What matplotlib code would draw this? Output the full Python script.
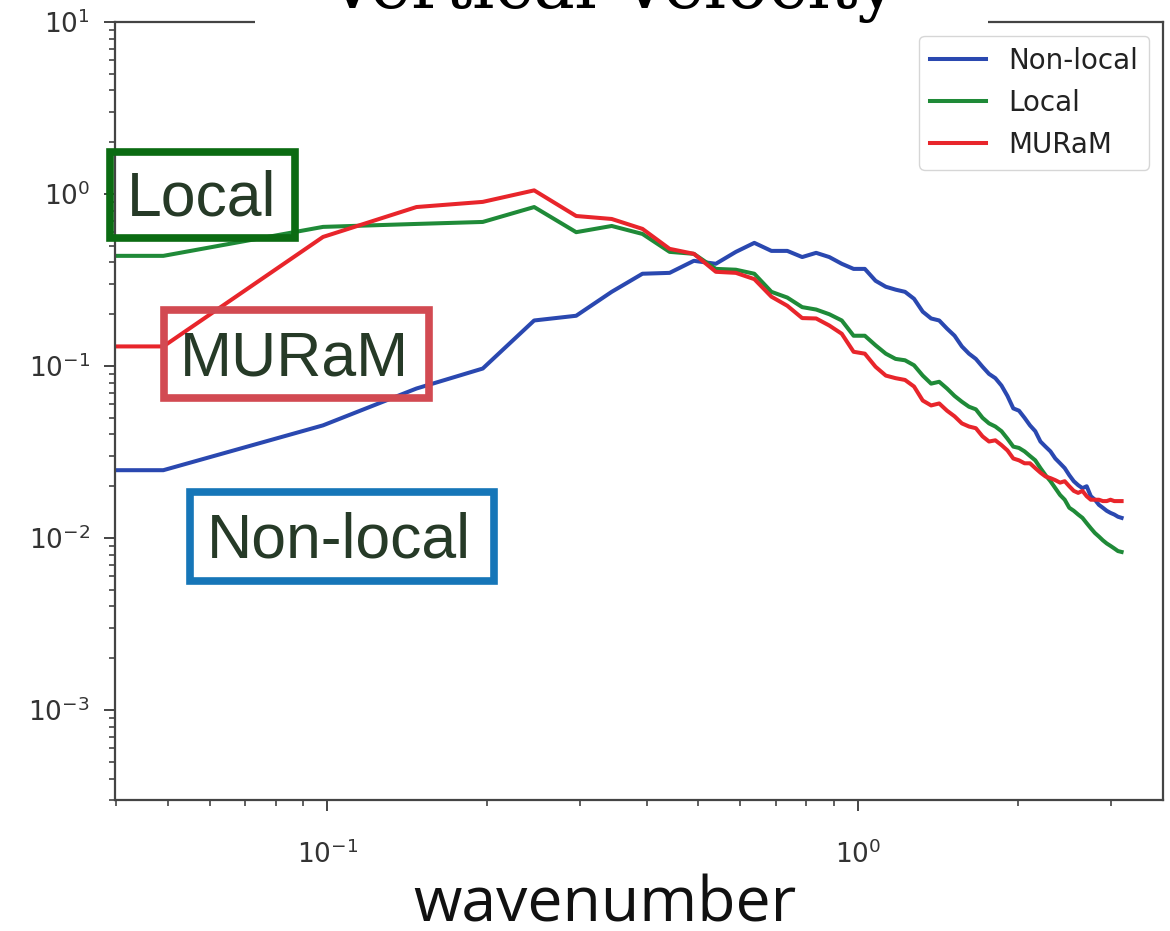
import numpy as np
import matplotlib
matplotlib.use("Agg")
import matplotlib.pyplot as plt
from matplotlib.patches import Rectangle
from matplotlib.transforms import Affine2D
from matplotlib.ticker import LogLocator, NullFormatter

W, H = 1170, 931

# spectral index n = 0..64, k = n * 2pi/128 (k=0 gets clipped by the log axis)
n_modes = np.arange(65)
wavenumber = n_modes * 2 * np.pi / 128

nonlocal_spec = [0.0248,
    0.0248, 0.0452, 0.074, 0.0967, 0.184, 0.196, 0.27, 0.344, 0.348, 0.409,
    0.393, 0.461, 0.52, 0.467, 0.467, 0.43, 0.455, 0.43, 0.393, 0.367,
    0.367, 0.313, 0.289, 0.278, 0.27, 0.246, 0.207, 0.189, 0.184, 0.165,
    0.15, 0.130, 0.118, 0.110, 0.099, 0.090, 0.085, 0.077, 0.067, 0.0567,
    0.055, 0.050, 0.0452, 0.0418, 0.0364, 0.034, 0.0319, 0.029, 0.0272, 0.0255,
    0.0232, 0.0214, 0.0203, 0.0195, 0.020, 0.0175, 0.0167, 0.0156, 0.0150, 0.0144,
    0.0140, 0.0137, 0.0133, 0.0131]

local_spec = [0.437,
    0.437, 0.644, 0.67, 0.688, 0.84, 0.60, 0.652, 0.586, 0.461, 0.449,
    0.367, 0.363, 0.344, 0.27, 0.25, 0.22, 0.213, 0.20, 0.184, 0.150,
    0.150, 0.132, 0.118, 0.110, 0.108, 0.101, 0.088, 0.079, 0.081, 0.074,
    0.067, 0.062, 0.058, 0.056, 0.050, 0.0464, 0.0445, 0.0418, 0.0378, 0.034,
    0.0334, 0.0319, 0.030, 0.0283, 0.0255, 0.0232, 0.0214, 0.0195, 0.0178, 0.0167,
    0.0150, 0.0144, 0.0137, 0.0131, 0.0122, 0.0114, 0.0107, 0.0102, 0.0097, 0.0093,
    0.0090, 0.0087, 0.0084, 0.0083]

muram_spec = [0.130,
    0.130, 0.563, 0.84, 0.90, 1.05, 0.745, 0.716, 0.627, 0.48, 0.449,
    0.353, 0.348, 0.32, 0.253, 0.224, 0.19, 0.189, 0.172, 0.154, 0.121,
    0.118, 0.099, 0.088, 0.085, 0.083, 0.076, 0.063, 0.059, 0.0606, 0.055,
    0.051, 0.0464, 0.0445, 0.0435, 0.039, 0.0364, 0.0370, 0.0347, 0.0323, 0.029,
    0.0283, 0.0272, 0.0272, 0.0255, 0.024, 0.0228, 0.0223, 0.0217, 0.021, 0.0214,
    0.020, 0.0188, 0.0183, 0.0188, 0.0175, 0.0167, 0.0167, 0.0167, 0.0164, 0.0164,
    0.0167, 0.0164, 0.0164, 0.0164]

series = [("Non-local", nonlocal_spec, "#2a48b0"),
          ("Local", local_spec, "#1f8a38"),
          ("MURaM", muram_spec, "#e8252b")]

fig = plt.figure(figsize=(W / 100, H / 100), dpi=100)
ax = fig.add_axes([115 / W, 1 - 800 / H, 1048 / W, 778 / H])

for name, vals, col in series:
    ax.plot(wavenumber, vals, color=col, lw=2.9, label=name)

ax.set_xscale("log")
ax.set_yscale("log")
ax.set_xlim(0.0398, 3.76)
ax.set_ylim(3e-4, 10)
ax.yaxis.set_major_locator(LogLocator(base=10, numticks=10))
ax.yaxis.set_minor_locator(LogLocator(base=10, subs=np.arange(2, 10), numticks=20))
ax.xaxis.set_minor_formatter(NullFormatter())
ax.yaxis.set_minor_formatter(NullFormatter())

for s in ax.spines.values():
    s.set_color("#444444")
    s.set_linewidth(1.6)
ax.tick_params(which="major", length=8, width=1.4, color="#444444",
               labelsize=19, labelcolor="#333333")
ax.tick_params(which="minor", length=4.3, width=1.2, color="#444444")
ax.tick_params(axis="x", which="major", pad=21)
ax.tick_params(axis="y", which="major", pad=10)

leg = ax.legend(loc="upper right", fontsize=20, borderaxespad=0.5)
for t in leg.get_texts():
    t.set_color("#222222")

# pixel coordinates, origin at top-left of the figure
px = Affine2D().scale(1 / W, -1 / H).translate(0, 1) + fig.transFigure

# title sits on a white strip over the top spine
fig.add_artist(Rectangle((255, -5), 733, 29, transform=px, fc="white",
                         ec="none", zorder=5))
fig.text(612, 8, "Vertical Velocity", transform=px, family="DejaVu Serif",
         size=50, ha="center", va="baseline", color="black", zorder=6)

fig.text(605, 922, "wavenumber", transform=px, family="Open Sans", size=45,
         ha="center", va="baseline", color="#111111")

# labelled boxes
boxes = [("Local", 127, 215, (110, 152, 185, 86), "#0b6b12"),
         ("MURaM", 180, 375, (163.5, 309.5, 265, 88), "#d24a52"),
         ("Non-local", 207, 558, (189.5, 491.5, 304, 89), "#1676b8")]
for label, tx, ty, (bx, by, bw, bh), ecol in boxes:
    fig.add_artist(Rectangle((bx, by), bw, bh, transform=px, fill=False,
                             ec=ecol, lw=5.5, zorder=5))
    fig.text(tx, ty, label, transform=px, family="Liberation Sans", size=45,
             ha="left", va="baseline", color="#263a27", zorder=6)

fig.savefig("out.png", dpi=100)
